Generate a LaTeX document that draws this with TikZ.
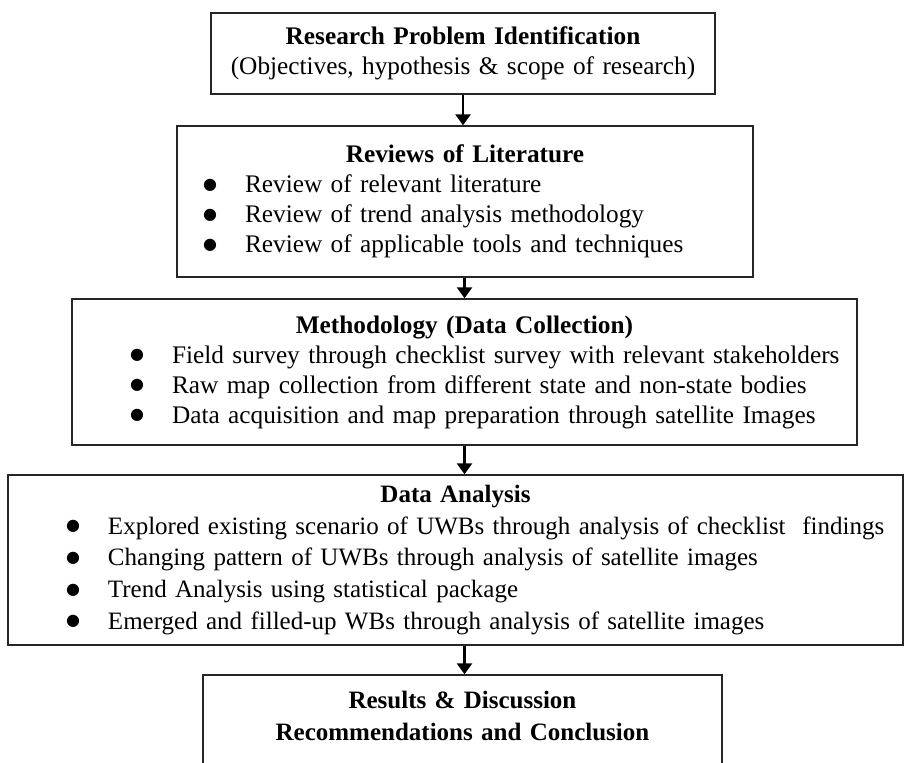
\documentclass[tikz,border=0pt]{standalone}
\usepackage{fontspec}
\setmainfont{Liberation Serif}
\newfontfamily\dotfont{DejaVu Sans}
\usetikzlibrary{arrows.meta}

\tikzset{stage/.style = {draw=black!85, line width=0.7pt, inner xsep=0pt, inner ysep=0pt,
    align=left, font=\fontsize{12.65}{15}\selectfont}}
\tikzset{widestage/.style = {stage, font=\fontsize{12.5}{15.9}\selectfont}}
\tikzset{flow/.style = {line width=1.3pt, -{Triangle[width=7.5pt,length=5.5pt]}}}

\newcommand{\heading}[1]{{\centering\bfseries #1\par}}
\newcommand{\stagedot}{\raisebox{1.8pt}{\dotfont\fontsize{8}{8}\selectfont ●}}
\newcommand{\bul}[2]{\par\noindent\hspace*{#1}\makebox[21pt][l]{\stagedot}#2}

\begin{document}
\begin{tikzpicture}[x=0.5pt, y=-0.5pt]
    \useasboundingbox (0,0) rectangle (904,762);
    \clip (0,0) rectangle (904,762);
    \node[stage, text width=252pt, minimum height=40.5pt] (prob) at (463,53.5)
        {\heading{Research Problem Identification}
         {\centering (Objectives, hypothesis \& scope of research)\par}};
    \node[stage, text width=288pt, minimum height=75.5pt] (lit) at (465,201.5)
        {\heading{Reviews of Literature}
         \bul{13pt}{Review of relevant literature}
         \bul{13pt}{Review of trend analysis methodology}
         \bul{13pt}{Review of applicable tools and techniques}\par\vspace{5pt}};
    \node[stage, text width=392.5pt, minimum height=73pt] (meth) at (464.5,372)
        {\heading{Methodology (Data Collection)}
         \bul{29pt}{Field survey through checklist survey with relevant stakeholders}
         \bul{29pt}{Raw map collection from different state and non-state bodies}
         \bul{29pt}{Data acquisition and map preparation through satellite Images}};
    \node[widestage, text width=447.5pt, minimum height=85pt] (anal) at (455.5,560)
        {\heading{Data Analysis}
         \bul{29pt}{Explored existing scenario of UWBs through analysis of checklist\ \ findings}
         \bul{29pt}{Changing pattern of UWBs through analysis of satellite images}
         \bul{29pt}{Trend Analysis using statistical package}
         \bul{29pt}{Emerged and filled-up WBs through analysis of satellite images}};
    \node[widestage, text width=259.5pt, minimum height=57pt] (res) at (462.5,732)
        {\heading{Results \& Discussion}
         \heading{Recommendations and Conclusion}
         \mbox{}};
    % arrows between stages
    \draw[flow] (prob.south) -- (prob.south |- lit.north);
    \draw[flow] (meth.north |- lit.south) -- (meth.north);
    \draw[flow] (meth.south) -- (meth.south |- anal.north);
    \draw[flow] (meth.south |- anal.south) -- (meth.south |- res.north);
\end{tikzpicture}
\end{document}
